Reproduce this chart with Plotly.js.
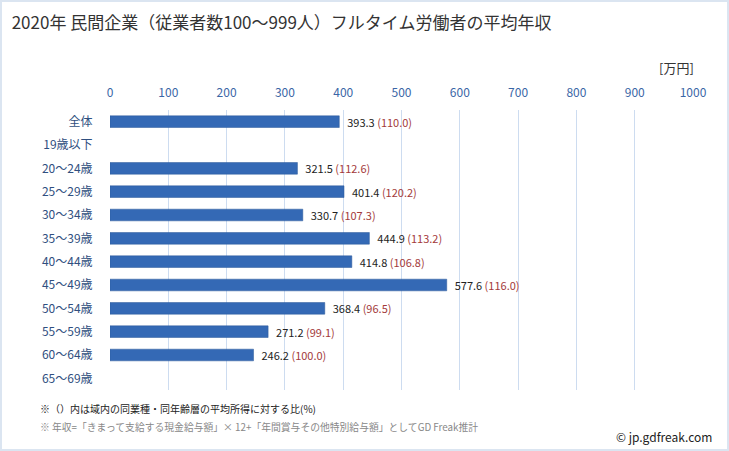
<!DOCTYPE html>
<html><head><meta charset="utf-8">
<script src="https://cdn.plot.ly/plotly-3.0.1.min.js"></script>
<style>
body{margin:0;padding:0;background:#fff;}
#wrap{position:relative;width:729px;height:451px;}
#chart{width:729px;height:451px;}
#frame{position:absolute;left:0;top:0;width:729px;height:451px;box-sizing:border-box;border:2px solid #dbe5f1;pointer-events:none;}
</style>
</head><body>
<div id="wrap"><div id="chart"></div><div id="frame"></div></div>
<script>
const categories = ["全体","19歳以下","20〜24歳","25〜29歳","30〜34歳","35〜39歳","40〜44歳","45〜49歳","50〜54歳","55〜59歳","60〜64歳","65〜69歳"];
const incomes = [393.3, null, 321.5, 401.4, 330.7, 444.9, 414.8, 577.6, 368.4, 271.2, 246.2, null];
const ratios = ["110.0", null, "112.6", "120.2", "107.3", "113.2", "106.8", "116.0", "96.5", "99.1", "100.0", null];
const tickVals = [0,100,200,300,400,500,600,700,800,900,1000];

const labels = incomes.map((v,i)=> v===null ? "" : '\u00a0\u00a0' + v.toFixed(1) + ' <span style="color:#a33a3a">(' + ratios[i] + ')</span>');

const jp = '"Noto Sans CJK JP", "Noto Sans", sans-serif';

const trace = {
  type:'bar', orientation:'h',
  y: categories, x: incomes,
  text: labels, textposition:'outside', cliponaxis:false, constraintext:'none',
  textfont:{family:jp, size:11, color:'#222'},
  marker:{color:'#3469b5', line:{color:'#2b5899', width:0.5}},
  hoverinfo:'skip'
};

const layout = {
  width:729, height:451,
  margin:{l:110, r:36, t:110, b:61},
  paper_bgcolor:'#fff', plot_bgcolor:'#fff',
  showlegend:false,
  bargap:0.5,
  font:{family:jp},
  title:{text:'2020年 民間企業（従業者数100〜999人）フルタイム労働者の平均年収', x:0.016, xanchor:'left', y:0.95, yanchor:'middle', font:{family:jp, size:17, color:'#333'}},
  xaxis:{range:[0,1000], side:'top', tickvals:tickVals, ticktext:tickVals.map(String),
    showgrid:true, gridcolor:'#cddcf0', gridwidth:1, zeroline:false, showline:false,
    ticks:'outside', ticklen:7, tickcolor:'rgba(0,0,0,0)',
    tickfont:{family:jp, size:12, color:'#3a66a6'}, fixedrange:true},
  yaxis:{type:'category', autorange:'reversed', showgrid:false, zeroline:false, showline:false,
    ticks:'outside', ticklen:14, tickcolor:'rgba(0,0,0,0)',
    tickfont:{family:jp, size:12, color:'#2f4f80'}, fixedrange:true},
  annotations:[
    {text:'[万円]', xref:'paper', yref:'paper', x:1.005, y:1.0+ (110-67)/280, xanchor:'right', yanchor:'middle', showarrow:false, font:{family:jp, size:13, color:'#333'}},
    {text:'※（）内は域内の同業種・同年齢層の平均所得に対する比(%)', xref:'paper', yref:'paper', x:(38-110)/583, y:-(408-390)/280, xanchor:'left', yanchor:'middle', showarrow:false, font:{family:jp, size:10, color:'#222'}},
    {text:'※ 年収=「きまって支給する現金給与額」× 12+「年間賞与その他特別給与額」としてGD Freak推計', xref:'paper', yref:'paper', x:(38-110)/583, y:-(427-390)/280, xanchor:'left', yanchor:'middle', showarrow:false, font:{family:jp, size:9.8, color:'#888'}},
    {text:'© jp.gdfreak.com', xref:'paper', yref:'paper', x:(714-110)/583, y:-(436-390)/280, xanchor:'right', yanchor:'middle', showarrow:false, font:{family:jp, size:12, color:'#222'}}
  ]
};

Plotly.newPlot('chart', [trace], layout, {displayModeBar:false, staticPlot:true});
</script>
</body></html>
